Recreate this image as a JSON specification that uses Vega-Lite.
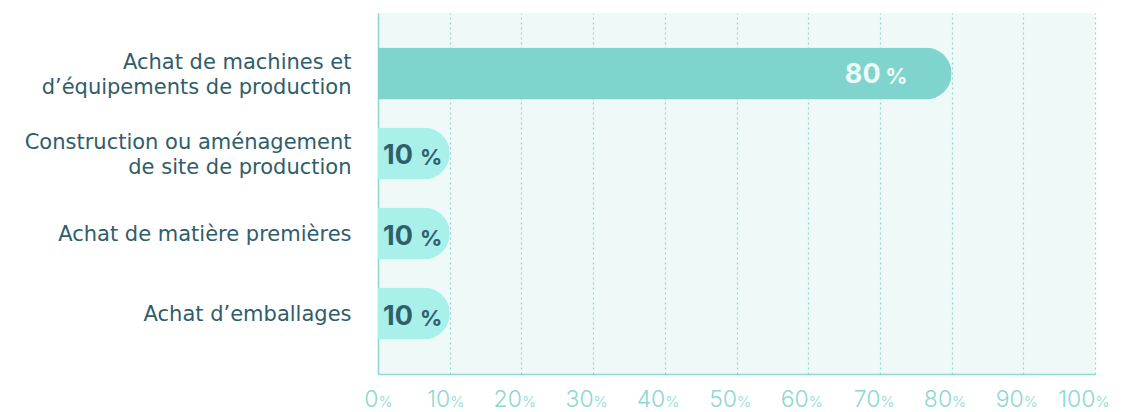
{
  "$schema": "https://vega.github.io/schema/vega-lite/v6.json",
  "autosize": {"type": "none"},
  "width": 717,
  "height": 361,
  "padding": {"left": 378, "top": 13, "right": 28, "bottom": 38},
  "background": "#ffffff",
  "config": {
    "view": {"fill": "#effaf8", "stroke": null},
    "font": "Inter"
  },
  "data": {
    "values": [
      {"category": "Achat de machines et|d’équipements de production", "value": 80},
      {"category": "Construction ou aménagement|de site de production", "value": 10},
      {"category": "Achat de matière premières", "value": 10},
      {"category": "Achat d’emballages", "value": 10}
    ]
  },
  "encoding": {
    "y": {
      "field": "category",
      "type": "nominal",
      "sort": null,
      "scale": {"paddingInner": 0.35, "paddingOuter": 0.43},
      "axis": {
        "title": null,
        "ticks": false,
        "domain": true,
        "domainColor": "#8dd8d0",
        "domainWidth": 1.5,
        "labelExpr": "split(datum.label, '|')",
        "labelOffset": {"condition": {"test": "indexof(datum.value, '|') >= 0", "value": -10}, "value": 1},
        "labelFont": "DejaVu Sans",
        "labelFontSize": 21,
        "labelLineHeight": 25,
        "labelColor": "#2f5d6a",
        "labelPadding": 27,
        "labelLimit": 400
      }
    }
  },
  "layer": [
    {
      "mark": {"type": "bar", "cornerRadiusEnd": 26},
      "encoding": {
        "x": {
          "field": "value",
          "type": "quantitative",
          "scale": {"domain": [0, 100]},
          "axis": {
            "orient": "bottom",
            "title": null,
            "values": [0, 10, 20, 30, 40, 50, 60, 70, 80, 90, 100],
            "labelExpr": "datum.value",
            "labelAlign": "right",
            "labelBaseline": "alphabetic",
            "labelDx": 1,
            "labelFont": "Inter",
            "labelFontSize": 23,
            "labelFontWeight": 300,
            "labelColor": "#8dd8d0",
            "labelPadding": 32,
            "ticks": false,
            "domain": true,
            "domainColor": "#8dd8d0",
            "domainWidth": 1.5,
            "grid": true,
            "gridColor": "#8dd8d0",
            "gridDash": [2, 3],
            "gridWidth": 1.2
          }
        },
        "color": {
          "condition": {"test": "datum.value >= 50", "value": "#7fd5cd"},
          "value": "#a9efea"
        }
      }
    },
    {
      "transform": [{"filter": "datum.value >= 50"}],
      "mark": {"type": "text", "align": "right", "baseline": "middle", "dx": -71, "dy": 2, "fontSize": 27, "fontWeight": "bold", "color": "#eefaf8"},
      "encoding": {
        "x": {"field": "value", "type": "quantitative", "axis": null},
        "text": {"field": "value", "type": "quantitative"}
      }
    },
    {
      "transform": [{"filter": "datum.value >= 50"}],
      "mark": {"type": "text", "align": "right", "baseline": "middle", "dx": -44, "dy": 4, "fontSize": 22, "fontWeight": "bold", "color": "#eefaf8", "text": "%"},
      "encoding": {
        "x": {"field": "value", "type": "quantitative", "axis": null}
      }
    },
    {
      "transform": [{"filter": "datum.value < 50"}],
      "mark": {"type": "text", "align": "left", "baseline": "middle", "dx": 5, "dy": 3, "fontSize": 27, "fontWeight": "bold", "color": "#2f5f6b"},
      "encoding": {
        "x": {"datum": 0, "type": "quantitative", "axis": null},
        "text": {"field": "value", "type": "quantitative"}
      }
    },
    {
      "transform": [{"filter": "datum.value < 50"}],
      "mark": {"type": "text", "align": "left", "baseline": "middle", "dx": 42, "dy": 5, "fontSize": 22, "fontWeight": "bold", "color": "#2f5f6b", "text": "%"},
      "encoding": {
        "x": {
          "datum": 0,
          "type": "quantitative",
          "axis": {
            "orient": "bottom",
            "title": null,
            "values": [0, 10, 20, 30, 40, 50, 60, 70, 80, 90, 100],
            "labelExpr": "'%'",
            "labelAlign": "left",
            "labelBaseline": "alphabetic",
            "labelDx": 5,
            "labelFont": "Inter",
            "labelFontSize": 15,
            "labelFontWeight": 300,
            "labelColor": "#8dd8d0",
            "labelPadding": 32,
            "ticks": false,
            "domain": false,
            "grid": false
          }
        }
      }
    }
  ],
  "resolve": {"axis": {"x": "independent"}}
}
